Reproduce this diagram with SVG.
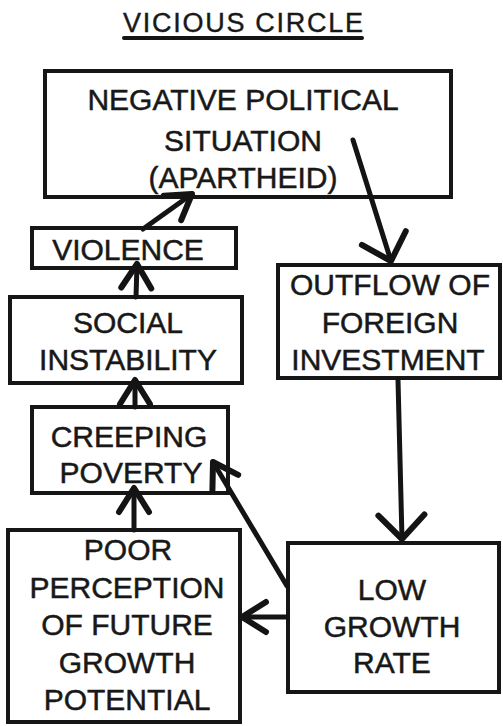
<svg xmlns="http://www.w3.org/2000/svg" width="503" height="726" viewBox="0 0 503 726">
<style>
  .box { fill: #fff; stroke: #161616; stroke-width: 4; }
  .t { font-family: "Liberation Sans", Arial, sans-serif; font-size: 30px; fill: #181818; stroke: #181818; stroke-width: 0.5; text-anchor: middle; }
  .c { fill: none; stroke: #141414; stroke-width: 5; stroke-linecap: round; }
</style>
<defs>
  <marker id="arr" markerUnits="userSpaceOnUse" viewBox="-30 -20 34 40" refX="0" refY="0" markerWidth="34" markerHeight="40" orient="auto" overflow="visible">
    <path d="M-24,-15 L0,0 L-24,15" fill="none" stroke="#141414" stroke-width="6" stroke-linecap="round" stroke-linejoin="round"/>
  </marker>
  <marker id="arrw" markerUnits="userSpaceOnUse" viewBox="-30 -26 34 52" refX="0" refY="0" markerWidth="34" markerHeight="52" orient="auto" overflow="visible">
    <path d="M-24,-23 L0,0 L-24,23" fill="none" stroke="#141414" stroke-width="6" stroke-linecap="round" stroke-linejoin="round"/>
  </marker>
</defs>
<rect width="503" height="726" fill="#fff"/>

<g id="title">
  <text x="243" y="32" font-family="Liberation Sans, Arial, sans-serif" font-size="27" fill="#181818" stroke="#181818" stroke-width="0.4" text-anchor="middle" textLength="240" lengthAdjust="spacing">VICIOUS CIRCLE</text>
  <line x1="124" y1="38" x2="362" y2="38" stroke="#141414" stroke-width="4" stroke-linecap="round"/>
</g>

<g id="node-negative">
  <rect class="box" x="45" y="71" width="406" height="126"/>
  <text class="t" x="243" y="110" font-size="31">NEGATIVE POLITICAL</text>
  <text class="t" x="243" y="151" font-size="31">SITUATION</text>
  <text class="t" x="243" y="188" font-size="31">(APARTHEID)</text>
</g>

<g id="node-violence">
  <rect class="box" x="32" y="228" width="204" height="40"/>
  <text class="t" x="128" y="260">VIOLENCE</text>
</g>

<g id="node-social">
  <rect class="box" x="10" y="297" width="232" height="86"/>
  <text class="t" x="128" y="333">SOCIAL</text>
  <text class="t" x="128" y="370">INSTABILITY</text>
</g>

<g id="node-creeping">
  <rect class="box" x="32" y="407" width="196" height="86"/>
  <text class="t" x="129" y="447">CREEPING</text>
  <text class="t" x="131" y="483">POVERTY</text>
</g>

<g id="node-poor">
  <rect class="box" x="8" y="530" width="232" height="192"/>
  <text class="t" x="128" y="560">POOR</text>
  <text class="t" x="127" y="598">PERCEPTION</text>
  <text class="t" x="127" y="635">OF FUTURE</text>
  <text class="t" x="127" y="673">GROWTH</text>
  <text class="t" x="127" y="710">POTENTIAL</text>
</g>

<g id="node-outflow">
  <rect class="box" x="278" y="265" width="222" height="113"/>
  <text class="t" x="390" y="295">OUTFLOW OF</text>
  <text class="t" x="390" y="333">FOREIGN</text>
  <text class="t" x="388" y="370">INVESTMENT</text>
</g>

<g id="node-low">
  <rect class="box" x="288" y="543" width="211" height="149"/>
  <text class="t" x="392" y="600">LOW</text>
  <text class="t" x="392" y="637">GROWTH</text>
  <text class="t" x="392" y="673">RATE</text>
</g>

<g id="connectors">
  <line class="c" x1="353" y1="140" x2="391" y2="261" stroke-width="6" marker-end="url(#arrw)"/>
  <line class="c" x1="398" y1="380" x2="402" y2="539" stroke-width="6" marker-end="url(#arrw)"/>
  <line class="c" x1="287" y1="617" x2="242" y2="617" marker-end="url(#arr)"/>
  <line class="c" x1="287" y1="586" x2="213" y2="462" marker-end="url(#arr)"/>
  <line class="c" x1="134" y1="530" x2="134" y2="488" marker-end="url(#arr)"/>
  <line class="c" x1="135" y1="407" x2="135" y2="380" marker-end="url(#arr)"/>
  <line class="c" x1="136" y1="297" x2="137" y2="264" marker-end="url(#arr)"/>
  <line class="c" x1="143" y1="229" x2="192" y2="194" marker-end="url(#arr)"/>
</g>
</svg>
